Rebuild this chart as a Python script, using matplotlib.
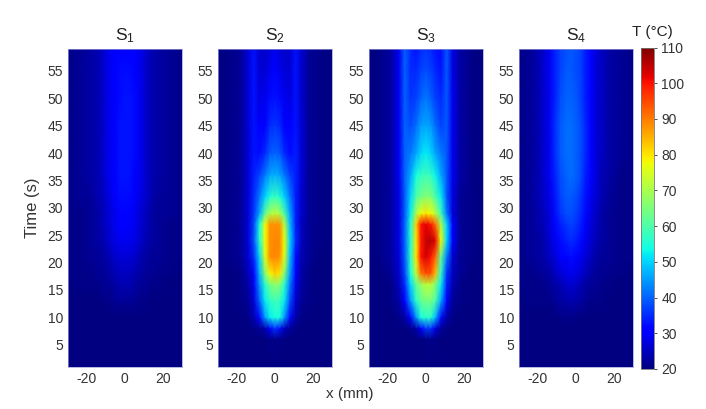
import matplotlib
matplotlib.use("Agg")
import matplotlib.pyplot as plt
import numpy as np

plt.rcParams['font.family'] = ['Liberation Sans', 'DejaVu Sans']
plt.rcParams['mathtext.default'] = 'regular'
plt.rcParams['mathtext.fontset'] = 'custom'
plt.rcParams['mathtext.rm'] = 'Liberation Sans'

x_mm = [-30, -24, -18, -14, -11, -8, -5, -2.5, 0, 2.5, 5, 8, 11, 14, 18, 24, 30]
t_s = [1, 6, 8, 10, 13, 16, 18, 21, 24, 27, 29, 32, 36, 40, 45, 50, 55, 59]

s1 = [
 [20,20,20,20,20,20,20,20,20,20,20,20,20,20,20,20,20],
 [20,20,20,20,20,20,20,20,20,20,20,20,20,20,20,20,20],
 [20,20,20,20,20,20,20,20,20,20,20,20,20,20,20,20,20],
 [20,20,20,20,20,20,20,20,20,20,20,20,20,20,20,20,20],
 [20,20,20,20,21,21,22,22,22,22,22,21,21,20,20,20,20],
 [20,21,21,21,22,22,23,24,24,24,23,22,22,21,21,20,20],
 [21,21,21,22,22,23,24,25,25,25,24,23,22,22,21,21,20],
 [21,21,22,22,23,24,26,27,27,27,26,24,23,22,22,21,21],
 [21,21,22,23,24,26,28,29,29,29,28,26,24,23,22,21,21],
 [21,21,22,23,25,27,29,30,30,30,29,27,25,23,22,21,21],
 [21,21,22,23,25,27,29,31,31,31,29,27,25,23,22,22,21],
 [21,22,22,24,25,28,30,32,32,32,30,28,26,24,22,22,21],
 [21,22,23,24,26,29,31,33,33,33,31,29,26,24,23,22,21],
 [21,22,23,24,26,29,31,33,33,33,32,29,26,24,23,22,21],
 [21,22,23,24,26,29,31,33,33,33,32,29,26,24,23,22,21],
 [21,22,23,24,26,29,31,32,33,33,32,29,26,24,23,22,21],
 [21,22,23,24,26,29,31,32,32,32,31,29,26,24,23,22,21],
 [21,22,23,24,26,29,31,31,31,31,31,29,26,24,23,22,21],
]

s2 = [
 [20,20,20,20,20,20,20,20,20,20,20,20,20,20,20,20,20],
 [20,20,20,20,20,20,20,21,21,21,20,20,20,20,20,20,20],
 [20,20,20,20,21,22,24,30,36,33,25,22,21,20,20,20,20],
 [20,20,20,21,24,32,45,52,54,54,45,32,23,21,20,20,20],
 [20,20,21,22,27,40,52,56,58,57,52,38,26,22,21,20,20],
 [20,20,21,23,29,44,56,64,67,66,56,42,28,23,21,20,20],
 [20,20,21,24,31,47,66,78,82,80,66,45,30,23,21,20,20],
 [20,21,22,26,35,50,76,88,89,88,76,48,32,24,22,20,20],
 [20,21,22,27,38,55,78,88,89,89,78,50,35,25,22,21,20],
 [20,21,22,27,37,54,78,88,88,88,72,48,34,25,22,21,20],
 [20,21,22,27,36,46,62,70,72,70,60,46,34,26,22,21,20],
 [20,21,22,27,35,42,50,55,58,55,50,42,34,26,22,21,20],
 [20,21,22,27,34,37,42,46,47,46,42,37,34,27,22,21,20],
 [20,21,22,27,33,32,35,39,40,39,35,32,34,27,22,21,20],
 [20,21,22,27,33,30,31,35,36,35,31,30,33,27,22,21,20],
 [20,21,22,27,33,28,29,32,33,32,29,28,33,26,22,21,20],
 [20,21,22,27,33,27,27,29,30,29,27,27,33,26,22,21,20],
 [20,21,22,27,33,26,26,27,29,27,26,26,33,26,22,21,20],
]

s3 = [
 [20,20,20,20,20,20,20,20,20,20,20,20,20,20,20,20,20],
 [20,20,20,20,20,20,20,20,21,21,21,20,20,20,20,20,20],
 [20,20,20,20,20,21,23,30,36,36,28,22,21,20,20,20,20],
 [20,20,20,21,23,30,44,54,56,56,48,32,23,21,20,20,20],
 [20,20,21,23,30,44,56,62,64,64,60,46,30,22,21,20,20],
 [20,20,21,25,35,50,62,68,72,72,66,52,34,24,21,20,20],
 [20,20,22,26,37,54,72,90,94,94,84,56,36,25,22,20,20],
 [20,21,23,27,39,56,80,100,103,100,92,62,42,26,22,21,20],
 [20,21,23,28,40,55,80,99,104,106,102,78,50,30,22,21,20],
 [20,21,23,28,40,55,82,100,102,100,92,70,50,30,22,21,20],
 [20,21,23,28,39,52,70,78,80,78,72,58,42,28,22,21,20],
 [20,21,23,28,39,50,60,64,66,66,60,52,39,28,22,21,20],
 [20,21,23,29,40,46,54,57,58,57,53,46,39,29,23,21,20],
 [20,21,23,29,40,42,46,50,52,50,46,42,39,29,23,21,20],
 [20,21,23,29,40,38,41,45,46,45,41,37,39,29,23,21,20],
 [20,21,23,29,40,36,37,40,42,40,37,35,39,29,23,21,20],
 [20,21,23,29,40,35,35,37,38,37,35,33,39,28,23,21,20],
 [20,21,23,29,40,35,33,35,36,35,33,32,39,28,23,21,20],
]

s4 = [
 [20,20,20,20,20,20,20,20,20,20,20,20,20,20,20,20,20],
 [20,20,20,20,20,20,20,20,20,20,20,20,20,20,20,20,20],
 [20,20,20,20,20,20,20,20,20,20,20,20,20,20,20,20,20],
 [20,20,20,20,20,21,21,21,21,20,20,20,20,20,20,20,20],
 [20,21,21,21,22,23,23,24,23,23,22,21,21,21,20,20,20],
 [21,21,21,22,23,24,26,26,26,24,23,22,22,21,21,20,20],
 [21,21,22,23,25,27,28,29,28,27,25,23,22,22,21,21,20],
 [21,22,23,25,27,30,31,32,31,29,27,25,23,22,22,21,21],
 [21,22,23,26,29,32,34,35,34,32,29,26,24,23,22,21,21],
 [21,22,24,27,31,34,36,37,36,34,30,27,25,23,22,21,21],
 [21,22,24,27,32,36,38,38,37,35,32,28,25,23,22,21,21],
 [21,22,25,28,33,37,39,39,38,36,33,29,26,24,22,21,21],
 [21,22,25,29,34,38,40,41,40,38,34,30,27,24,23,21,21],
 [21,22,25,29,35,39,41,41,40,38,35,30,27,25,23,22,21],
 [21,22,25,29,35,39,41,41,40,38,35,30,27,25,23,22,21],
 [21,22,25,29,34,38,40,40,39,37,34,30,27,25,23,22,21],
 [21,22,25,29,34,37,39,39,38,37,34,30,27,25,23,22,21],
 [21,22,25,29,34,37,38,39,38,37,34,30,27,25,23,22,21],
]

panels = [("S$_1$", s1), ("S$_2$", s2), ("S$_3$", s3), ("S$_4$", s4)]
x_ticks = [-20, 0, 20]
x_tick_labels = ["-20", "0", "20"]
y_ticks = [5, 10, 15, 20, 25, 30, 35, 40, 45, 50, 55]
cbar_ticks = [20, 30, 40, 50, 60, 70, 80, 90, 100, 110]

W, H = 706, 409
TXT = '#333333'
fig = plt.figure(figsize=(W / 100, H / 100), dpi=100)

def rect(l, t, r, b):
    return [l / W, 1 - b / H, (r - l) / W, (b - t) / H]

lefts = [67.5, 217.5, 368.5, 518.5]
for (name, vals), l in zip(panels, lefts):
    ax = fig.add_axes(rect(l, 49, l + 114.5, 366.5))
    m = ax.pcolormesh(x_mm, t_s, np.array(vals, float), cmap='jet', vmin=20, vmax=110,
                      shading='gouraud', rasterized=True)
    ax.set_xlim(-30, 30)
    ax.set_ylim(1, 59)
    ax.set_xticks(x_ticks, x_tick_labels)
    ax.set_yticks(y_ticks)
    ax.tick_params(length=0, labelsize=10, colors=TXT)
    ax.tick_params(axis='x', pad=4)
    ax.tick_params(axis='y', pad=3)
    for s in ax.spines.values():
        s.set_linewidth(0.5)
        s.set_color('#9a9ad8')
    ax.text(0.5, 1.012, name, transform=ax.transAxes, ha='center', va='bottom',
            fontsize=12.5, color='#222222')

cax = fig.add_axes(rect(640.5, 47.5, 653.5, 369))
cb = fig.colorbar(m, cax=cax, ticks=cbar_ticks)
cb.ax.tick_params(length=2.5, width=0.6, labelsize=10, colors=TXT, pad=3)
cb.outline.set_linewidth(0.6)
cb.outline.set_edgecolor('#777777')

fig.text(652 / W, 1 - 32 / H, "T (°C)", ha='center', va='center', fontsize=11, color='#222222')
fig.text(350 / W, 1 - 394 / H, "x (mm)", ha='center', va='center', fontsize=11, color=TXT)
fig.text(32 / W, 1 - 208 / H, "Time (s)", rotation=90, ha='center', va='center', fontsize=12, color=TXT)

fig.savefig("out.png", dpi=100, facecolor='white')
